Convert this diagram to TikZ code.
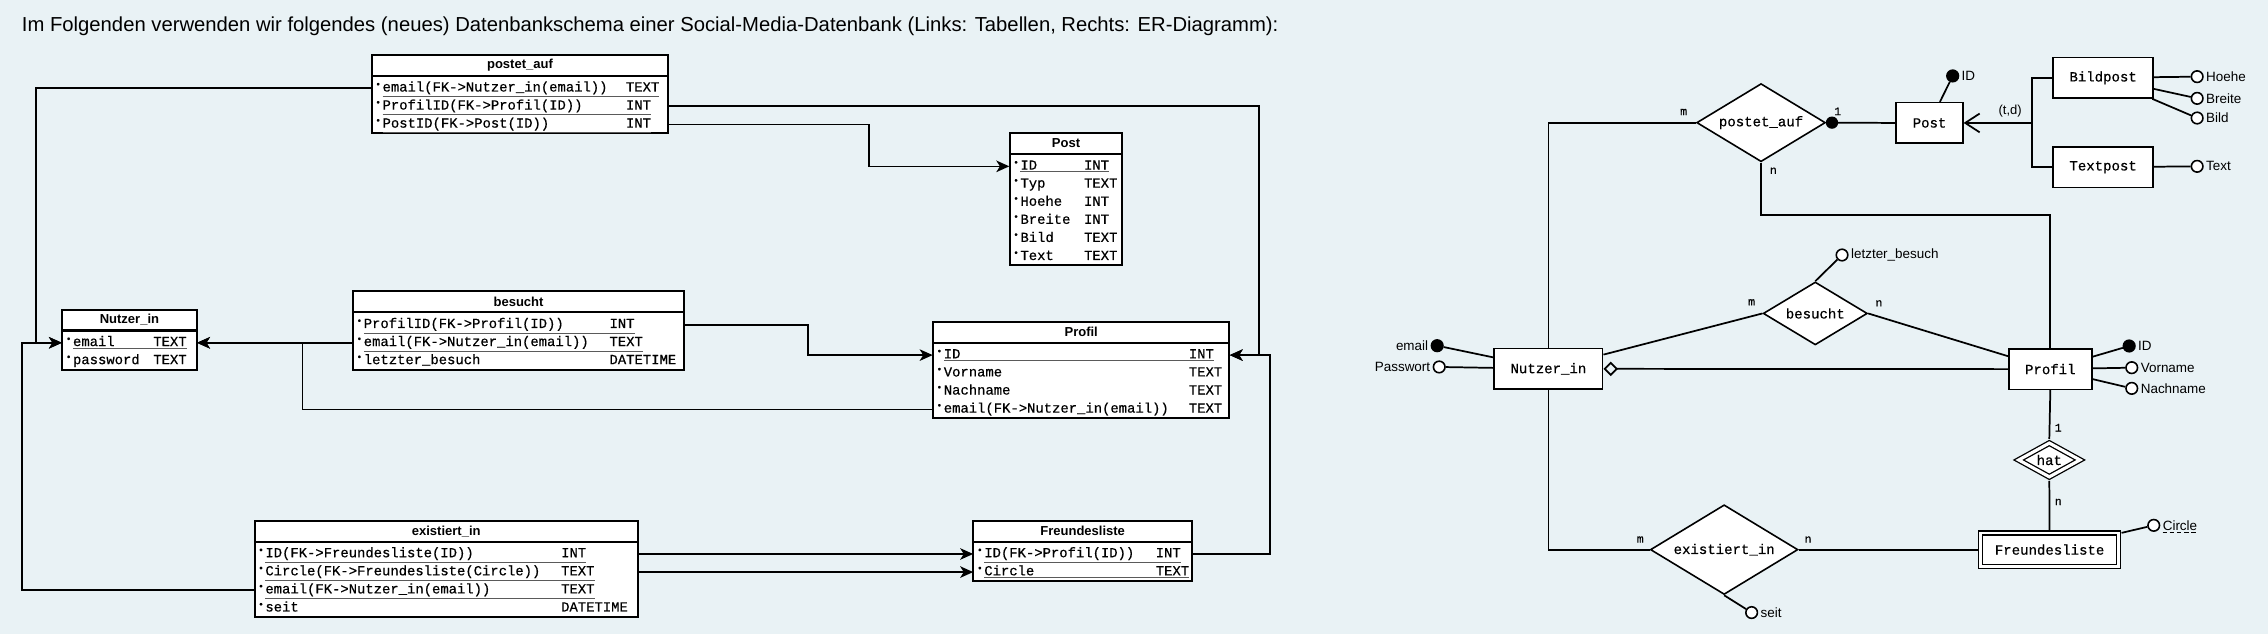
\documentclass[tikz,border=0pt]{standalone}
\usepackage{fontspec}
\setmainfont{Liberation Sans}
\setmonofont{Liberation Mono}[FakeBold=0.5]
\usepackage{xcolor}
\usepackage{tikz}
\usetikzlibrary{arrows.meta, calc, shapes.geometric}
\definecolor{dbback}{RGB}{233,242,245}
\definecolor{dbline}{RGB}{90,90,90}
% table rows: bullet, name column, type
\newcommand{\rb}{\makebox[5pt][l]{\raisebox{0.3em}{\fontsize{6.5}{7}\selectfont\textbullet}}}
\newcommand{\keyrow}[3]{\rb\textcolor{dbline}{\underline{\textcolor{black}{\makebox[#1][l]{#2}#3}}}}
\newcommand{\plainrow}[3]{\rb\makebox[#1][l]{#2}#3}

\begin{document}
\begin{tikzpicture}[x=1pt, y=-1pt,
  tabhead/.style={draw, fill=white, line width=1.4pt, inner sep=0pt, minimum height=14.5pt, font=\bfseries\fontsize{9}{10}\selectfont},
  tabrow/.style={inner xsep=2.5pt, inner ysep=0pt, minimum height=12.5pt, align=left, text height=7pt, text depth=2.5pt, font=\ttfamily\fontsize{9.6}{11}\selectfont},
  tabframe/.style={draw, line width=1.4pt},
  fk/.style={line width=1.15pt, -{Stealth[length=9pt, width=8pt, inset=2.5pt]}},
  entity/.style={draw, fill=white, line width=1.1pt, inner sep=0pt, font=\ttfamily\fontsize{9.7}{11}\selectfont},
  relship/.style={diamond, draw, fill=white, line width=1.1pt, inner sep=0pt, aspect=1.65, font=\ttfamily\fontsize{9.7}{11}\selectfont},
  attr/.style={circle, draw, fill=white, line width=1.1pt, minimum size=8pt, inner sep=0pt},
  keyattr/.style={attr, fill=black},
  lab/.style={inner sep=1.5pt, font=\fontsize{9.3}{11}\selectfont},
  card/.style={inner sep=1pt, font=\ttfamily\fontsize{8}{9}\selectfont},
  er/.style={line width=1.2pt}]
\path[use as bounding box, fill=dbback] (0,0) rectangle (1568,438);

\node[anchor=west, inner sep=0pt, font=\fontsize{14}{16}\selectfont] (title) at (15,18)
  {Im Folgenden verwenden wir folgendes (neues) Datenbankschema einer Social-Media-Datenbank (Links: Tabellen, Rechts: ER-Diagramm):};

% Tables
\draw[tabframe, fill=white] (257,38) rectangle (462,92);
\node[tabhead, minimum width=205pt] (pa) at (359.5,45.25) {postet\_auf};
\foreach \r [count=\i] in {{\keyrow{17.53em}{email(FK->Nutzer\_in(email))}{TEXT}},
    {\keyrow{17.53em}{ProfilID(FK->Profil(ID))}{INT}},
    {\keyrow{17.53em}{PostID(FK->Post(ID))}{INT}}}
  \node[tabrow, text width=200pt] (pa-\i) at (359.5,48.5+12.5*\i) {\r};

\draw[tabframe, fill=white] (43,214) rectangle (136,255.5);
\node[tabhead, minimum width=93pt] (nu) at (89.5,221.25) {Nutzer\_in};
\foreach \r [count=\i] in {{\keyrow{5.78em}{email}{TEXT}},
    {\plainrow{5.78em}{password}{TEXT}}}
  \node[tabrow, text width=88pt] (nu-\i) at (89.5,224.5+12.5*\i) {\r};

\draw[tabframe, fill=white] (244,201.5) rectangle (473,255.5);
\node[tabhead, minimum width=229pt] (bs) at (358.5,208.75) {besucht};
\foreach \r [count=\i] in {{\keyrow{17.7em}{ProfilID(FK->Profil(ID))}{INT}},
    {\keyrow{17.7em}{email(FK->Nutzer\_in(email))}{TEXT}},
    {\plainrow{17.7em}{letzter\_besuch}{DATETIME}}}
  \node[tabrow, text width=224pt] (bs-\i) at (358.5,212+12.5*\i) {\r};

\draw[tabframe, fill=white] (698,92) rectangle (776,183.5);
\node[tabhead, minimum width=78pt] (po) at (737,99.25) {Post};
\foreach \r [count=\i] in {{\keyrow{4.58em}{ID}{INT}},
    {\plainrow{4.58em}{Typ}{TEXT}}, {\plainrow{4.58em}{Hoehe}{INT}},
    {\plainrow{4.58em}{Breite}{INT}}, {\plainrow{4.58em}{Bild}{TEXT}},
    {\plainrow{4.58em}{Text}{TEXT}}}
  \node[tabrow, text width=73pt] (po-\i) at (737,102.5+12.5*\i) {\r};

\draw[tabframe, fill=white] (645,222.5) rectangle (850,289);
\node[tabhead, minimum width=205pt] (pr) at (747.5,229.75) {Profil};
\foreach \r [count=\i] in {{\keyrow{17.65em}{ID}{INT}},
    {\plainrow{17.65em}{Vorname}{TEXT}}, {\plainrow{17.65em}{Nachname}{TEXT}},
    {\plainrow{17.65em}{email(FK->Nutzer\_in(email))}{TEXT}}}
  \node[tabrow, text width=200pt] (pr-\i) at (747.5,233+12.5*\i) {\r};

\draw[tabframe, fill=white] (176,360) rectangle (441,426.5);
\node[tabhead, minimum width=265pt] (ex) at (308.5,367.25) {existiert\_in};
\foreach \r [count=\i] in {{\keyrow{21.3em}{ID(FK->Freundesliste(ID))}{INT}},
    {\keyrow{21.3em}{Circle(FK->Freundesliste(Circle))}{TEXT}},
    {\keyrow{21.3em}{email(FK->Nutzer\_in(email))}{TEXT}},
    {\plainrow{21.3em}{seit}{DATETIME}}}
  \node[tabrow, text width=260pt] (ex-\i) at (308.5,370.5+12.5*\i) {\r};

\draw[tabframe, fill=white] (673,360) rectangle (824,401.5);
\node[tabhead, minimum width=151pt] (fl) at (748.5,367.25) {Freundesliste};
\foreach \r [count=\i] in {{\keyrow{12.35em}{ID(FK->Profil(ID))}{INT}},
    {\keyrow{12.35em}{Circle}{TEXT}}}
  \node[tabrow, text width=146pt] (fl-\i) at (748.5,370.5+12.5*\i) {\r};

% Foreign keys
\draw[fk] (pa-1.west) -| ($(nu-1.west)+(-18,0)$) -- (nu-1.west);
\draw[fk] (ex-3.west) -| ($(nu-1.west)+(-27.5,0)$) -- (nu-1.west);
\draw[fk] (bs-2.west) -- (nu-1.east);
\draw[fk] (pr-4.west) -| ($(nu-1.east)+(73,0)$) -- (nu-1.east);
\draw[fk] (bs-1.east) -| ($(pr-1.west)+(-86,0)$) -- (pr-1.west);
\draw[fk] (pa-2.east) -| ($(pr-1.east)+(20,0)$) -- (pr-1.east);
\draw[fk] (fl-1.east) -| ($(pr-1.east)+(28,0)$) -- (pr-1.east);
\draw[fk] (pa-3.east) -| ($(po-1.west)+(-97,0)$) -- (po-1.west);
\draw[fk] (ex-1.east) -- (fl-1.west);
\draw[fk] (ex-2.east) -- (fl-2.west);

% ER diagram: entities and relationships
\node[relship, minimum width=89pt, minimum height=54pt] (pa-er) at (1217.5,84.8) {postet\_auf};
\node[relship, minimum width=72pt, minimum height=43.5pt] (bs-er) at (1255,216.7) {besucht};
\node[relship, minimum width=102pt, minimum height=62pt] (ex-er) at (1192,380) {existiert\_in};
\node[relship, double, double distance=2.2pt, line width=0.9pt, outer sep=2pt, aspect=1.7,
  minimum width=44pt, minimum height=25pt] (hat) at (1416.8,318) {hat};
\node[entity, minimum width=75pt, minimum height=28pt] (nu-er) at (1070.5,255) {Nutzer\_in};
\node[entity, minimum width=57.5pt, minimum height=28pt] (pr-er) at (1417.5,255.2) {Profil};
\node[entity, minimum width=46pt, minimum height=28pt] (po-er) at (1334,85) {Post};
\node[entity, minimum width=69pt, minimum height=28pt] (bi-er) at (1454,53.8) {Bildpost};
\node[entity, minimum width=69pt, minimum height=28pt] (tx-er) at (1454,115.6) {Textpost};
\node[entity, double, double distance=2pt, line width=0.9pt, outer sep=2pt,
  minimum width=95.5pt, minimum height=23pt] (fl-er) at (1417,380) {Freundesliste};

% Attributes
\node[keyattr, label={[lab]right:ID}] (po-id) at (1350,52.5) {};
\node[attr, label={[lab]right:Hoehe}] (hoehe) at (1519,53) {};
\node[attr, label={[lab]right:Breite}] (breite) at (1519,68) {};
\node[attr, label={[lab]right:Bild}] (bild) at (1519,81.6) {};
\node[attr, label={[lab]right:Text}] (txt) at (1519,115) {};
\node[keyattr, label={[lab]left:email}] (nu-email) at (993.6,239) {};
\node[attr, label={[lab]left:Passwort}] (nu-pw) at (995,253.7) {};
\node[attr, label={[lab]right:letzter\_besuch}] (lb) at (1273.5,176.3) {};
\node[keyattr, label={[lab]right:ID}] (pr-id) at (1472,239.2) {};
\node[attr, label={[lab]right:Vorname}] (vorname) at (1473.8,254.2) {};
\node[attr, label={[lab]right:Nachname}] (nachname) at (1473.8,268.5) {};
\node[attr, label={[lab, name=fl-lab]right:Circle}] (fl-circle) at (1489,363.2) {};
\node[attr, label={[lab]right:seit}] (seit) at (1211,423.5) {};
\draw[dashed, dash pattern=on 3pt off 2pt, line width=0.6pt]
  ($(fl-lab.base west)+(1.5,1.8)$) -- ($(fl-lab.base east)+(-1.5,1.8)$);

% Connections
\draw[er] (nu-er.north) |- (pa-er.west);
\draw[er] (pa-er.south) -- ++(0,36.5) -| (pr-er.north);
\draw[er] (pa-er.east) -- (po-er.west);
\node[circle, fill=black, minimum size=8.5pt, inner sep=0pt] (pa-dot) at ($(pa-er.east)+(4,0)$) {};
\draw[er] (po-er) -- (po-id);
\coordinate (isa) at (1404.6,85);
\draw[er, -{Straight Barb[length=10pt, width=13pt]}] (isa) -- (po-er.east);
\draw[er] (bi-er.west) -| (isa) |- (tx-er.west);
\node[lab, font=\fontsize{9}{11}\selectfont] (isa-lab) at (1389.7,76.5) {(t,d)};
\draw[er] (bi-er) -- (hoehe);
\draw[er] (bi-er) -- (breite);
\draw[er] (bi-er) -- (bild);
\draw[er] (tx-er) -- (txt);
\draw[er] (nu-er) -- (nu-email);
\draw[er] (nu-er) -- (nu-pw);
\draw[er] (nu-er) -- (bs-er.west);
\draw[er] (bs-er.east) -- (pr-er);
\draw[er] (bs-er.north) -- (lb);
\draw[er, {Diamond[open, length=10pt, width=10pt]}-] (nu-er.east) -- (pr-er.west);
\draw[er] (pr-er) -- (pr-id);
\draw[er] (pr-er) -- (vorname);
\draw[er] (pr-er) -- (nachname);
\draw[er] (pr-er.south) -- (hat.north);
\draw[er] (hat.south) -- (fl-er.north);
\draw[er] (fl-er) -- (fl-circle);
\draw[er] (nu-er.south) |- (ex-er.west);
\draw[er] (ex-er.east) -- (fl-er.west);
\draw[er] (ex-er.south) -- (seit);

% Cardinalities
\node[card] (c1) at (1164,77.4) {m};
\node[card] (c2) at (1270.5,77) {1};
\node[card] (c3) at (1226,118) {n};
\node[card] (c4) at (1211,209) {m};
\node[card] (c5) at (1299,209.7) {n};
\node[card] (c6) at (1423,295.7) {1};
\node[card] (c7) at (1423,347) {n};
\node[card] (c8) at (1134,373) {m};
\node[card] (c9) at (1250,373) {n};
\end{tikzpicture}
\end{document}
